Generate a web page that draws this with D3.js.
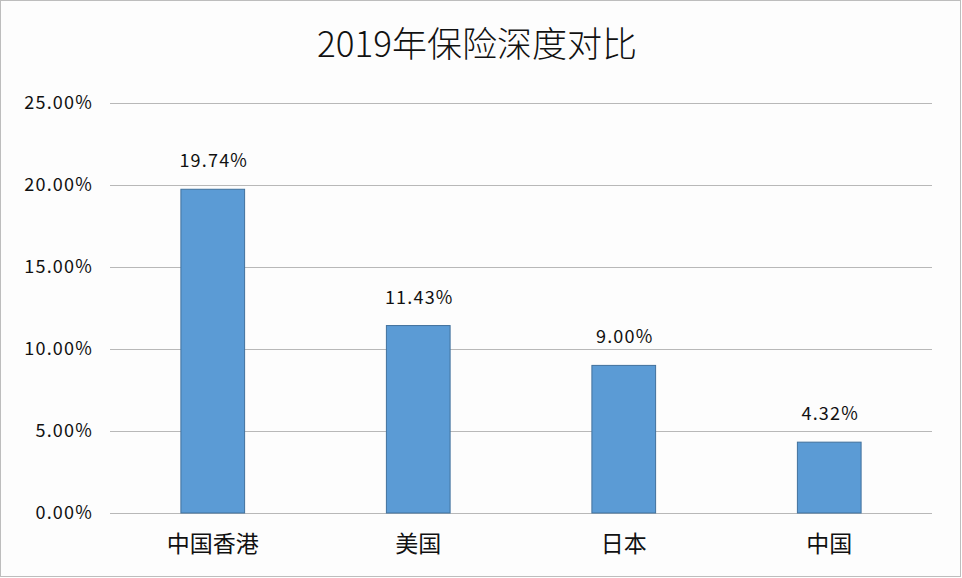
<!DOCTYPE html>
<html>
<head>
<meta charset="utf-8">
<script src="https://cdn.jsdelivr.net/npm/d3@7"></script>
<style>
  body { margin: 0; background: #fff; }
  text { font-family: "Noto Sans CJK SC", "Noto Sans", sans-serif; fill: #111; }
</style>
</head>
<body>
<div id="chart"></div>
<script>
// 2019 insurance depth by region
const categories = ["中国香港", "美国", "日本", "中国"];
const values = [19.74, 11.43, 9.00, 4.32];
const yTicks = [0, 5, 10, 15, 20, 25];
const title = "2019年保险深度对比";

const width = 962;
const height = 578;
const plot = {left: 110, right: 932, top: 103, bottom: 513};

const svg = d3.select("#chart")
      .append("svg")
      .attr("width", width)
      .attr("height", height);

svg.append("rect")
    .attr("x", 0.5).attr("y", 0.5)
    .attr("width", width - 2).attr("height", height - 2)
    .attr("fill", "#fdfdfd")
    .attr("stroke", "#bdbdbd");

const x = d3.scaleBand()
      .domain(categories)
      .range([plot.left, plot.right])
      .paddingInner(0.69)
      .paddingOuter(0.345);

const y = d3.scaleLinear()
      .domain([0, 25])
      .range([plot.bottom, plot.top]);

// gridlines
svg.append("g")
    .selectAll("line")
    .data(yTicks)
    .enter().append("line")
    .attr("x1", plot.left)
    .attr("x2", plot.right)
    .attr("y1", d => Math.round(y(d)) + 0.5)
    .attr("y2", d => Math.round(y(d)) + 0.5)
    .attr("stroke", "#b8b8b8")
    .attr("stroke-width", 1);

// y tick labels
svg.append("g")
    .selectAll("text")
    .data(yTicks)
    .enter().append("text")
    .attr("x", 93)
    .attr("y", d => y(d))
    .attr("dy", "0.35em")
    .attr("text-anchor", "end")
    .attr("font-size", 18)
    .attr("letter-spacing", 1.2)
    .text(d => d.toFixed(2) + "%");

// bars
svg.append("g")
    .selectAll("rect")
    .data(values)
    .enter().append("rect")
    .attr("x", (d, i) => x(categories[i]))
    .attr("y", d => y(d))
    .attr("width", x.bandwidth())
    .attr("height", d => y(0) - y(d))
    .attr("fill", "#5b9bd5")
    .attr("stroke", "#41719c")
    .attr("stroke-width", 1);

// value labels
svg.append("g")
    .selectAll("text")
    .data(values)
    .enter().append("text")
    .attr("x", (d, i) => x(categories[i]) + x.bandwidth() / 2 + 1)
    .attr("y", d => y(d) - 22)
    .attr("text-anchor", "middle")
    .attr("font-size", 18)
    .attr("letter-spacing", 1.2)
    .text(d => d.toFixed(2) + "%");

// category labels
svg.append("g")
    .selectAll("text")
    .data(categories)
    .enter().append("text")
    .attr("x", d => x(d) + x.bandwidth() / 2)
    .attr("y", 552)
    .attr("text-anchor", "middle")
    .attr("font-size", 23)
    .text(d => d);

svg.append("text")
    .attr("x", 477)
    .attr("y", 57)
    .attr("text-anchor", "middle")
    .attr("font-size", 35)
    .attr("font-weight", 300)
    .text(title);
</script>
</body>
</html>
